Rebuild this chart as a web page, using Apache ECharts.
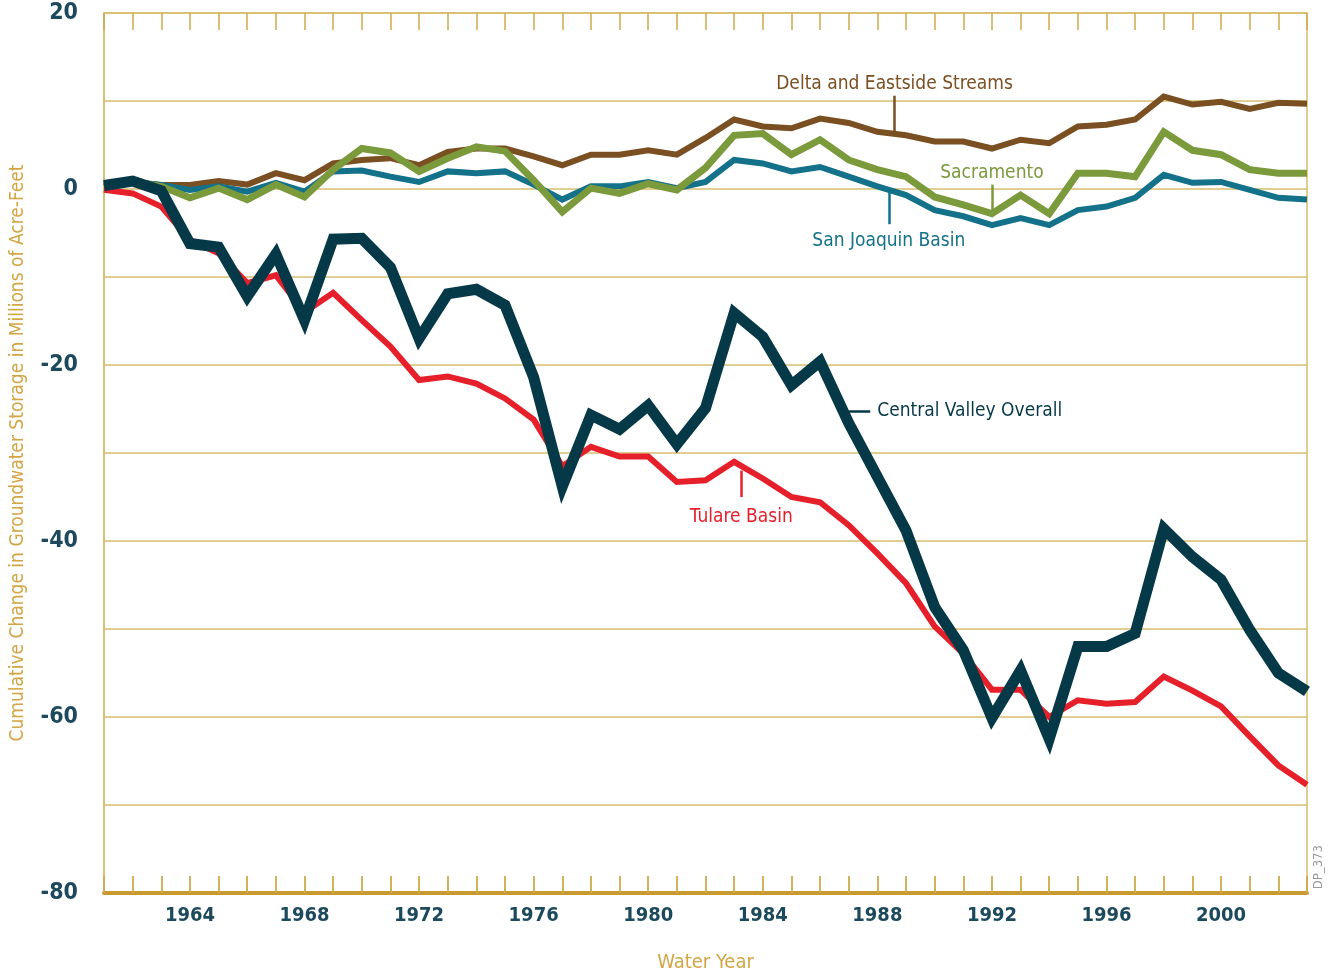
<!DOCTYPE html>
<html>
<head>
<meta charset="utf-8">
<script src="https://cdn.jsdelivr.net/npm/echarts@6/dist/echarts.min.js"></script>
<style>
  html, body { margin: 0; padding: 0; background: #fff; }
  #chart { width: 1335px; height: 975px; }
</style>
</head>
<body>
<div id="chart"></div>
<script>
// water years
const years = [1961, 1962, 1963, 1964, 1965, 1966, 1967, 1968, 1969, 1970,
  1971, 1972, 1973, 1974, 1975, 1976, 1977, 1978, 1979, 1980,
  1981, 1982, 1983, 1984, 1985, 1986, 1987, 1988, 1989, 1990,
  1991, 1992, 1993, 1994, 1995, 1996, 1997, 1998, 1999, 2000,
  2001, 2002, 2003]

// cumulative change, millions of acre-feet
const delta = [0.3, 0.8, 0.45, 0.45, 0.9, 0.5, 1.8, 1.0, 2.9, 3.3,
  3.5, 2.7, 4.2, 4.6, 4.6, 3.7, 2.7, 3.9, 3.9, 4.4,
  3.9, 5.8, 7.9, 7.1, 6.9, 8.0, 7.5, 6.5, 6.1, 5.4,
  5.4, 4.6, 5.6, 5.2, 7.1, 7.3, 7.9, 10.5, 9.6, 9.9,
  9.1, 9.8, 9.7]
const sanJoaquin = [0.3, 0.8, 0.45, -0.1, 0.3, -0.3, 0.7, -0.3, 2.0, 2.1,
  1.4, 0.8, 2.0, 1.8, 2.0, 0.5, -1.2, 0.3, 0.3, 0.8,
  0.1, 0.8, 3.3, 2.9, 2.0, 2.5, 1.4, 0.3, -0.7, -2.4,
  -3.1, -4.1, -3.3, -4.1, -2.4, -2.0, -1.0, 1.6, 0.7, 0.8,
  -0.1, -1.0, -1.2]
const sacramento = [0.3, 0.8, 0.3, -1.0, 0.1, -1.2, 0.5, -0.9, 2.2, 4.6,
  4.1, 2.0, 3.5, 4.8, 4.3, 1.0, -2.6, 0.1, -0.5, 0.6,
  -0.1, 2.4, 6.1, 6.3, 3.9, 5.6, 3.3, 2.2, 1.4, -0.9,
  -1.8, -2.8, -0.7, -2.8, 1.8, 1.8, 1.4, 6.5, 4.4, 3.9,
  2.2, 1.8, 1.8]
const tulare = [-0.1, -0.5, -2.0, -5.8, -7.3, -10.7, -9.8, -14.0, -11.8, -14.9,
  -17.9, -21.7, -21.3, -22.1, -23.8, -26.2, -31.5, -29.3, -30.4, -30.4,
  -33.3, -33.1, -31.0, -32.9, -35.0, -35.6, -38.2, -41.4, -44.8, -49.7,
  -52.8, -56.9, -56.9, -60.0, -58.1, -58.5, -58.3, -55.4, -57.0, -58.8,
  -62.2, -65.5, -67.7]
const centralValley = [0.4, 0.9, -0.2, -6.2, -6.6, -12.2, -7.4, -14.9, -5.7, -5.6,
  -8.9, -17.0, -11.9, -11.4, -13.2, -21.4, -33.8, -25.7, -27.3, -24.6,
  -29.0, -24.9, -14.1, -16.8, -22.3, -19.6, -26.6, -32.7, -38.8, -47.5,
  -52.4, -60.1, -54.7, -62.5, -52.0, -52.0, -50.5, -38.6, -41.8, -44.4,
  -50.1, -55.0, -57.1]

const yLabels = [20, 0, -20, -40, -60, -80]
const xLabels = [1964, 1968, 1972, 1976, 1980, 1984, 1988, 1992, 1996, 2000]

const gold = '#d9bd6e'
const axisGold = '#c99a32'
const tickGold = '#cfaa4c'
const inkBlue = '#1c4a5c'
const font = "'DejaVu Sans Condensed', 'Roboto', sans-serif"

const pairs = vals => years.map((y, i) => [y, vals[i]])

// leader line + label for each series
function leader(from, to, text, color, dist) {
  return {
    silent: true,
    symbol: ['none', 'none'],
    lineStyle: { color: color, width: 2.5, type: 'solid' },
    label: {
      show: true,
      position: 'end',
      formatter: text,
      color: color,
      fontFamily: font,
      fontSize: 19,
      distance: dist
    },
    data: [[{ coord: from }, { coord: to }]]
  }
}

function line(name, vals, color, width, mark) {
  return {
    name: name,
    type: 'line',
    data: pairs(vals),
    symbol: 'none',
    lineStyle: { color: color, width: width, join: 'miter', miterLimit: 4 },
    itemStyle: { color: color },
    markLine: mark
  }
}

const chart = echarts.init(document.getElementById('chart'))

const option = {
  animation: false,
  backgroundColor: '#fff',
  grid: {
    left: 104, right: 28, top: 13, bottom: 82,
    containLabel: false,
    outerBoundsMode: 'none',
    show: true, borderColor: gold, borderWidth: 1.5
  },
  xAxis: [
    {
      type: 'value',
      position: 'bottom',
      min: 1961, max: 2003, interval: 1,
      name: 'Water Year',
      nameLocation: 'middle',
      nameGap: 60,
      nameTextStyle: { color: '#d3a545', fontFamily: font, fontSize: 20 },
      axisLine: { show: true, onZero: false, lineStyle: { color: axisGold, width: 4 } },
      axisTick: { show: true, inside: true, length: 17, lineStyle: { color: tickGold, width: 1.8 } },
      splitLine: { show: false },
      axisLabel: {
        color: inkBlue, fontFamily: font, fontSize: 20, fontWeight: 'bold', margin: 13,
        formatter: v => xLabels.includes(v) ? String(v) : ''
      }
    },
    {
      type: 'value',
      position: 'top',
      min: 1961, max: 2003, interval: 1,
      axisLine: { show: false, onZero: false },
      axisTick: { show: true, inside: true, length: 17, lineStyle: { color: tickGold, width: 1.5 } },
      splitLine: { show: false },
      axisLabel: { show: false }
    }
  ],
  yAxis: {
    type: 'value',
    min: -80, max: 20, interval: 10,
    name: 'Cumulative Change in Groundwater Storage in Millions of Acre-Feet',
    nameLocation: 'middle',
    nameGap: 76,
    nameTextStyle: { color: '#d3a545', fontFamily: font, fontSize: 19 },
    axisLine: { show: true, lineStyle: { color: gold, width: 1.5 } },
    axisTick: { show: false },
    splitLine: { show: true, lineStyle: { color: gold, width: 1.5 } },
    axisLabel: {
      color: inkBlue, fontFamily: font, fontSize: 23, fontWeight: 'bold', margin: 26,
      formatter: v => yLabels.includes(v) ? String(v) : ''
    }
  },
  series: [
    line('Delta and Eastside Streams', delta, '#7a4f22', 6,
      leader([1988.6, 6.5], [1988.6, 10.6], 'Delta and Eastside Streams', '#7a4f22', 2)),
    line('San Joaquin Basin', sanJoaquin, '#137189', 6,
      leader([1988.4, -0.1], [1988.4, -4.0], 'San Joaquin Basin', '#137189', 7)),
    line('Sacramento', sacramento, '#7a9a3c', 7,
      leader([1992, -2.7], [1992, 0.5], 'Sacramento', '#7a9a3c', 2)),
    line('Tulare Basin', tulare, '#e5202b', 6,
      leader([1983.25, -32.0], [1983.25, -35.0], 'Tulare Basin', '#e5202b', 11)),
    line('Central Valley Overall', centralValley, '#063948', 11,
      leader([1987.0, -25.2], [1987.75, -25.2], 'Central Valley Overall', '#063948', 7))
  ],
  graphic: [
    {
      type: 'text',
      left: 1312, top: 845,
      rotation: Math.PI / 2,
      style: { text: 'DP_373', fill: '#9a9a9a', fontFamily: font, fontSize: 13 }
    }
  ]
}

chart.setOption(option)
</script>
</body>
</html>
